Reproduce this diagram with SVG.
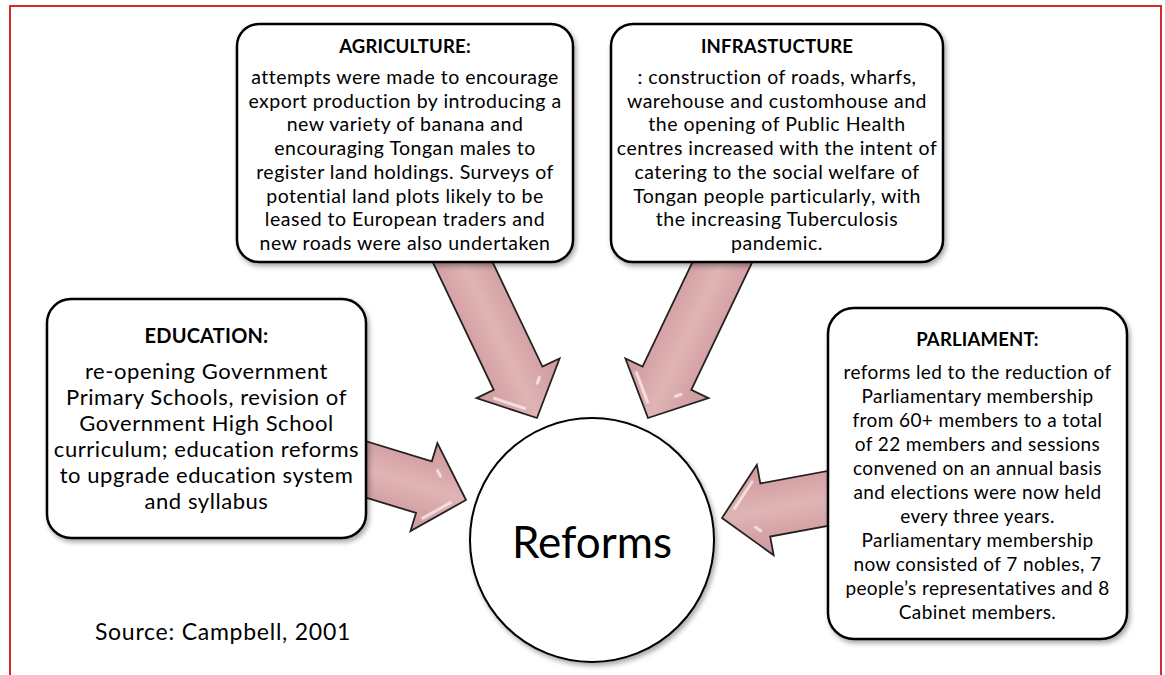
<svg xmlns="http://www.w3.org/2000/svg" width="1165" height="675" viewBox="0 0 1165 675">
<defs>
<style>
.box{fill:#fff;stroke:#000;stroke-width:2.5;filter:url(#sh)}
.t{font-family:Lato,"Open Sans","Liberation Sans",sans-serif;fill:#000;text-anchor:middle}
.ttl{font-weight:bold;font-size:18.5px;letter-spacing:0.2px}
.b{font-size:19.5px;letter-spacing:0.5px}
.bp{font-size:19px;letter-spacing:0.4px}
.be{font-size:22px;letter-spacing:0.55px}
.arrow{fill:url(#ag);stroke:#222;stroke-width:1.8;stroke-linejoin:miter}
.glint{fill:none;stroke:#fff;stroke-width:3;stroke-linecap:round;opacity:.65;filter:url(#bl)}
</style>
<linearGradient id="ag" x1="0" y1="0" x2="0" y2="1">
<stop offset="0" stop-color="#d09c9e"/>
<stop offset="0.25" stop-color="#d6a4a6"/>
<stop offset="0.5" stop-color="#e0b4b5"/>
<stop offset="0.75" stop-color="#d6a4a6"/>
<stop offset="1" stop-color="#d09c9e"/>
</linearGradient>
<filter id="sh" x="-10%" y="-10%" width="125%" height="125%">
<feDropShadow dx="2" dy="3" stdDeviation="2.5" flood-color="#000" flood-opacity="0.35"/>
</filter>
<filter id="bl"><feGaussianBlur stdDeviation="0.6"/></filter>
<path id="arr200" d="M-200,-27 L-44,-27 L-44,-46 L0,0 L-44,46 L-44,27 L-200,27 Z"/>
<path id="arr140" d="M-140,-27 L-44,-27 L-44,-46 L0,0 L-44,46 L-44,27 L-140,27 Z"/>
<g id="gl"><path class="glint" d="M-36,30 L-14,7"/><path class="glint" d="M-36,-20 L-31,-15"/></g>
</defs>
<rect x="0" y="0" width="1165" height="675" fill="#fff"/>
<rect x="10" y="6" width="1151" height="700" fill="none" stroke="#d42a2a" stroke-width="2"/>

<g id="connectors">
<g transform="translate(537,418) rotate(64.5)"><use href="#arr200" class="arrow"/><use href="#gl"/></g>
<g transform="translate(648,418) rotate(115.5)"><use href="#arr200" class="arrow"/><use href="#gl"/></g>
<g transform="translate(466,500) rotate(17)"><use href="#arr140" class="arrow"/><use href="#gl"/></g>
<g transform="translate(722,518) rotate(169.5)"><use href="#arr140" class="arrow"/><use href="#gl"/></g>
</g>

<g id="agriculture">
<rect class="box" x="237" y="24" width="336" height="238" rx="22"/>
<text class="t ttl" x="405" y="53">AGRICULTURE:</text>
<text class="t b" x="405" y="84">attempts were made to encourage</text>
<text class="t b" x="405" y="107.7">export production by introducing a</text>
<text class="t b" x="405" y="131.4">new variety of banana and</text>
<text class="t b" x="405" y="155.1">encouraging Tongan males to</text>
<text class="t b" x="405" y="178.8">register land holdings. Surveys of</text>
<text class="t b" x="405" y="202.5">potential land plots likely to be</text>
<text class="t b" x="405" y="226.2">leased to European traders and</text>
<text class="t b" x="405" y="250">new roads were also undertaken</text>
</g>

<g id="infrastructure">
<rect class="box" x="611" y="24" width="332" height="238" rx="22"/>
<text class="t ttl" x="777" y="53">INFRASTUCTURE</text>
<text class="t b" x="777" y="84">: construction of roads, wharfs,</text>
<text class="t b" x="777" y="107.7">warehouse and customhouse and</text>
<text class="t b" x="777" y="131.4">the opening of Public Health</text>
<text class="t b" x="777" y="155.1">centres increased with the intent of</text>
<text class="t b" x="777" y="178.8">catering to the social welfare of</text>
<text class="t b" x="777" y="202.5">Tongan people particularly, with</text>
<text class="t b" x="777" y="226.2">the increasing Tuberculosis</text>
<text class="t b" x="777" y="250">pandemic.</text>
</g>

<g id="education">
<rect class="box" x="47" y="299" width="319" height="239" rx="24"/>
<text class="t ttl" x="206.5" y="343" style="font-size:20px">EDUCATION:</text>
<text class="t be" x="206.5" y="379">re-opening Government</text>
<text class="t be" x="206.5" y="405">Primary Schools, revision of</text>
<text class="t be" x="206.5" y="431">Government High School</text>
<text class="t be" x="206.5" y="457">curriculum; education reforms</text>
<text class="t be" x="206.5" y="483">to upgrade education system</text>
<text class="t be" x="206.5" y="509">and syllabus</text>
</g>

<g id="parliament">
<rect class="box" x="828" y="308" width="299" height="331" rx="26"/>
<text class="t ttl" x="977.5" y="346">PARLIAMENT:</text>
<text class="t bp" x="977.5" y="379">reforms led to the reduction of</text>
<text class="t bp" x="977.5" y="403">Parliamentary membership</text>
<text class="t bp" x="977.5" y="427">from 60+ members to a total</text>
<text class="t bp" x="977.5" y="451">of 22 members and sessions</text>
<text class="t bp" x="977.5" y="475">convened on an annual basis</text>
<text class="t bp" x="977.5" y="499">and elections were now held</text>
<text class="t bp" x="977.5" y="523">every three years.</text>
<text class="t bp" x="977.5" y="547">Parliamentary membership</text>
<text class="t bp" x="977.5" y="571">now consisted of 7 nobles, 7</text>
<text class="t bp" x="977.5" y="595">people’s representatives and 8</text>
<text class="t bp" x="977.5" y="619">Cabinet members.</text>
</g>

<g id="reforms">
<circle cx="592" cy="540" r="122" fill="#fff" stroke="#000" stroke-width="2" filter="url(#sh)"/>
<text class="t" x="592" y="558" style="font-size:44px">Reforms</text>
</g>

<g id="source">
<text class="t" x="223" y="640" style="font-size:23px;letter-spacing:0.75px">Source: Campbell, 2001</text>
</g>
</svg>
